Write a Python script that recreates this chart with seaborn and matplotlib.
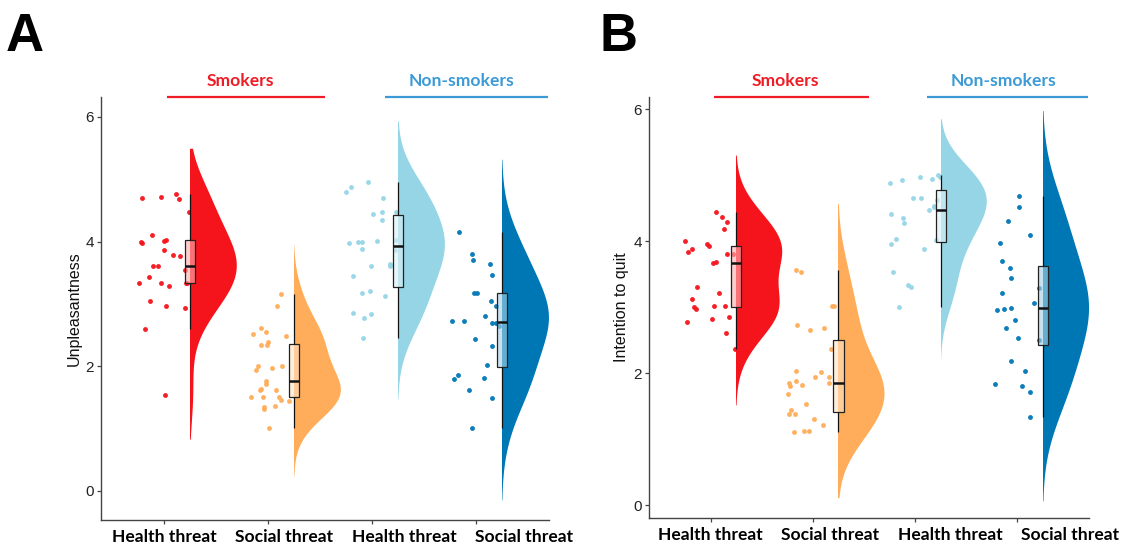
import numpy as np
import pandas as pd
import matplotlib
matplotlib.use("Agg")
import matplotlib.pyplot as plt
import matplotlib.transforms as mtransforms
from matplotlib.patches import Rectangle
from matplotlib.colors import to_rgb
import seaborn as sns

# ---------------- data ----------------
categories = ["Health threat", "Social threat", "Health threat", "Social threat"]
groups = ["Smokers", "Non-smokers"]
colors = ["#F5141B", "#FFAD5A", "#96D5E6", "#0077B5"]
group_colors = ["#EE1C25", "#3C9AD6"]

# Panel A: Unpleasantness
a_smk_health = [4.70, 4.68, 4.71, 4.77, 4.47, 4.03, 4.01, 3.98, 4.11, 3.87, 3.79, 3.77, 3.60, 4.00,
                3.61, 3.54, 3.43, 3.33, 3.34, 3.33, 3.29, 3.33, 3.04, 2.97, 2.94, 2.60, 1.54]
a_smk_social = [3.16, 2.97, 2.55, 2.52, 2.38, 2.34, 2.34, 2.62, 2.49, 2.01, 2.01, 1.97, 1.94, 1.76,
                1.62, 1.61, 1.63, 1.71, 1.51, 1.50, 1.44, 1.50, 1.45, 1.31, 1.34, 1.36, 1.00]
a_non_health = [4.95, 4.80, 4.87, 4.70, 4.45, 4.48, 4.47, 4.35, 3.98, 4.00, 4.01, 4.00, 4.02, 3.87,
                3.64, 3.61, 3.61, 3.44, 3.17, 3.21, 3.13, 2.84, 2.86, 2.77, 2.45, 3.88]
a_non_social = [4.16, 3.80, 3.70, 3.64, 3.47, 3.17, 3.17, 3.04, 2.97, 2.80, 2.69, 2.65, 2.73, 2.69,
                2.73, 2.43, 2.32, 2.02, 1.86, 1.81, 1.80, 1.61, 1.49, 1.00]

# Panel B: Intention to quit
b_smk_health = [4.45, 4.36, 4.29, 4.18, 4.01, 3.96, 3.93, 3.83, 3.67, 3.69, 3.80, 3.80, 3.88, 3.30,
                3.21, 3.13, 2.98, 3.02, 3.01, 3.02, 2.85, 2.78, 2.82, 2.61, 2.36]
b_smk_social = [3.53, 3.56, 3.02, 3.02, 2.73, 2.66, 2.68, 2.36, 2.04, 2.02, 1.95, 1.95, 1.88, 1.85,
                1.82, 1.85, 1.80, 1.68, 1.54, 1.45, 1.38, 1.38, 1.31, 1.21, 1.12, 1.11, 1.12]
b_non_health = [4.98, 5.01, 4.97, 4.93, 4.88, 4.94, 4.62, 4.65, 4.48, 4.54, 4.66, 4.52, 4.42, 4.35,
                4.27, 4.04, 4.02, 3.96, 3.88, 3.54, 3.34, 3.31, 3.01]
b_non_social = [4.69, 4.52, 4.30, 4.10, 3.98, 3.70, 3.60, 3.45, 3.21, 3.29, 3.06, 2.96, 2.99, 2.98,
                2.81, 2.68, 2.54, 2.50, 2.19, 2.03, 1.80, 1.71, 1.83, 1.34]

yticks = [0, 2, 4, 6]

# ---------------- helpers ----------------
sns.set_style("white")
plt.rcParams["font.family"] = ["Liberation Sans", "DejaVu Sans"]
plt.rcParams["text.color"] = "black"
np.random.seed(7)

BOLD_FAMILY = ["Lato", "DejaVu Sans"]
SMOOTH = 0.62   # kernel width as a fraction of the group's standard deviation


def nrd0(x):
    x = np.asarray(x, float)
    sd = np.std(x, ddof=1)
    iqr = np.subtract(*np.percentile(x, [75, 25]))
    lo = min(sd, iqr / 1.34) if iqr > 0 else sd
    return 0.9 * lo * len(x) ** (-0.2)


def lighten(c, f):
    r, g, b = to_rgb(c)
    return (1 - f * (1 - r), 1 - f * (1 - g), 1 - f * (1 - b))


def draw_panel(ax, series, ylabel, ylim, label_step):
    for i, (vals, col) in enumerate(zip(series, colors)):
        vals = np.asarray(vals, float)
        pos = i + 0.25
        df_v = pd.DataFrame({"pos": np.full(len(vals), pos), "value": vals})
        sd = np.std(vals, ddof=1)
        cut = 3 * nrd0(vals) / (SMOOTH * sd)
        n0 = len(ax.collections)
        sns.violinplot(data=df_v, x="pos", y="value", native_scale=True, ax=ax,
                       color=col, saturation=1, bw_method=SMOOTH, cut=cut,
                       gridsize=200, density_norm="width", width=0.9, inner=None,
                       linewidth=0)
        clip = Rectangle((pos, -50), 10, 100, transform=ax.transData)
        for coll in ax.collections[n0:]:
            coll.set_clip_path(clip)
            coll.set_edgecolor("none")
            coll.set_zorder(1)

        df_p = pd.DataFrame({"pos": np.full(len(vals), float(i)), "value": vals})
        sns.stripplot(data=df_p, x="pos", y="value", native_scale=True, ax=ax,
                      color=col, jitter=0.25, size=3.5, linewidth=0, alpha=0.95, zorder=3)

        p0 = len(ax.patches)
        l0 = len(ax.lines)
        sns.boxplot(data=df_v, x="pos", y="value", native_scale=True, ax=ax,
                    width=0.1, showfliers=False, showcaps=False, color=col,
                    saturation=1, linecolor="black", linewidth=0.9,
                    medianprops={"linewidth": 1.8, "color": "black"})
        fc = lighten(col, 0.35)
        for p in ax.patches[p0:]:
            p.set_facecolor((*fc, 0.62))
            p.set_edgecolor("#222222")
            p.set_zorder(4)
        for ln in ax.lines[l0:]:
            ln.set_zorder(5)
            ln.set_color("#111111")

    ax.set_xlim(-0.605, 3.70)
    ax.set_ylim(*ylim)
    ax.set_xticks(range(len(categories)))
    ax.set_xticklabels([""] * len(categories))
    # category labels (placed slightly spread out as in the original figure)
    trans_x = mtransforms.blended_transform_factory(ax.transData, ax.transAxes)
    for i, cat in enumerate(categories):
        ax.annotate(cat, xy=(i * label_step, 0), xycoords=trans_x,
                    xytext=(0, -12.3), textcoords="offset points",
                    ha="center", va="center", fontsize=12.6, fontweight="bold",
                    family=BOLD_FAMILY, color="black", annotation_clip=False)
    ax.set_yticks(yticks)
    ax.set_yticklabels([str(t) for t in yticks], fontsize=11, color="#222222")
    ax.set_xlabel("")
    ax.set_ylabel(ylabel, fontsize=11.5, color="#111111", labelpad=3)
    for s in ["top", "right"]:
        ax.spines[s].set_visible(False)
    for s in ["left", "bottom"]:
        ax.spines[s].set_color("#444444")
        ax.spines[s].set_linewidth(1.0)
    ax.tick_params(axis="both", direction="out", length=3, width=0.9, color="#444444",
                   left=True, bottom=True)
    ax.tick_params(axis="y", pad=2)

    spans = [(0.03, 1.55), (2.12, 3.69)]
    centers = [0.73, 2.86]
    for g, (x0, x1), xc, gc in zip(groups, spans, centers, group_colors):
        ax.plot([x0, x1], [1.0, 1.0], transform=trans_x, color=gc, lw=1.6,
                clip_on=False, solid_capstyle="butt")
        ax.text(xc, 1.037, g, transform=trans_x, ha="center", va="center", color=gc,
                fontsize=12.6, fontweight="bold", family=BOLD_FAMILY)


fig = plt.figure(figsize=(11.21, 5.46), dpi=100)
axA = fig.add_axes([0.0901, 0.0476, 0.3996, 0.7747])
axB = fig.add_axes([0.5787, 0.0518, 0.3928, 0.7710])

draw_panel(axA, [a_smk_health, a_smk_social, a_non_health, a_non_social],
           "Unpleasantness", (-0.47, 6.32), 1.155)
draw_panel(axB, [b_smk_health, b_smk_social, b_non_health, b_non_social],
           "Intention to quit", (-0.19, 6.19), 1.172)

fig.text(0.005, 0.978, "A", fontsize=38, fontweight="bold", va="top", ha="left",
         color="black", family=["Liberation Sans", "DejaVu Sans"])
fig.text(0.535, 0.978, "B", fontsize=38, fontweight="bold", va="top", ha="left",
         color="black", family=["Liberation Sans", "DejaVu Sans"])

fig.savefig("out.png", dpi=100, facecolor="white")
